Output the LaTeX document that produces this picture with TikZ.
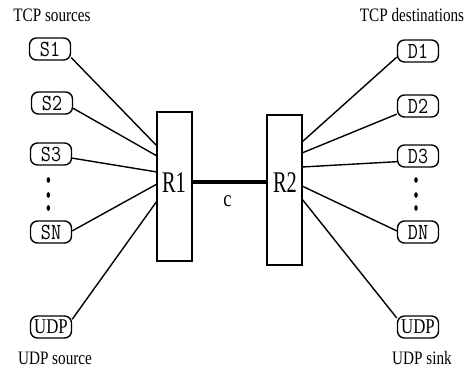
\documentclass[tikz,border=0pt]{standalone}
\usepackage{fontspec}
\usetikzlibrary{shapes.geometric}
\setmainfont{Liberation Serif}
\newfontfamily\nserif[FakeStretch=0.8]{Liberation Serif}
\newfontfamily\rserif[FakeStretch=0.68]{Liberation Serif}
\newfontfamily\hostmono[FakeStretch=0.85]{Latin Modern Mono}
\begin{document}
\begin{tikzpicture}[x=1pt,y=-1pt,
  host/.style={draw, rounded corners=7pt, minimum width=41pt, minimum height=22pt, inner sep=0pt, line width=1.4pt},
  monotxt/.style={font=\hostmono\fontsize{23}{23}\selectfont},
  serifhost/.style={font=\nserif\fontsize{21}{21}\selectfont},
  router/.style={draw, minimum width=35pt, minimum height=149pt, inner sep=0pt, line width=1.6pt},
  lbl/.style={font=\nserif\fontsize{19}{19}\selectfont, inner sep=0pt},
  rlbl/.style={font=\rserif\fontsize{30}{30}\selectfont, inner sep=0pt},
  lnk/.style={line width=1.4pt},
  trunk/.style={line width=3.2pt},
  dotmark/.style={fill=black, ellipse, inner sep=0pt, minimum width=3.6pt, minimum height=5.6pt}]
\useasboundingbox (0,0) rectangle (468,368);

% labels
\node[lbl] (tsrc) at (52,15) {TCP sources};
\node[lbl] (tdst) at (412,15) {TCP destinations};
\node[lbl] (usrc) at (55,358) {UDP source};
\node[lbl] (usnk) at (422,358) {UDP sink};

% routers
\node[router] (R1) at (174.5,186.5) {};
\node[router, minimum height=150pt] (R2) at (284.5,190) {};
\node[rlbl] (R1t) at (174,182.5) {R1};
\node[rlbl] (R2t) at (285,182.5) {R2};

% sources
\node[host, monotxt] (S1) at (50,49) {S1};
\node[host, monotxt] (S2) at (52,103) {S2};
\node[host, monotxt] (S3) at (51,154) {S3};
\node[host, monotxt] (SN) at (51,232) {SN};
\node[host, serifhost] (U1) at (51,327) {UDP};

% destinations
\node[host, monotxt] (D1) at (418,51) {D1};
\node[host, monotxt] (D2) at (418,106) {D2};
\node[host, monotxt] (D3) at (418,156) {D3};
\node[host, monotxt] (DN) at (418,232) {DN};
\node[host, serifhost] (U2) at (418,327) {UDP};

% dots
\node[dotmark] (ls1) at (48.3,180) {};
\node[dotmark] (ls2) at (48.3,195) {};
\node[dotmark] (ls3) at (48.3,208) {};
\node[dotmark] (rs1) at (416,180) {};
\node[dotmark] (rs2) at (416,195) {};
\node[dotmark] (rs3) at (416,208) {};

% attachment points on routers
\coordinate (a1) at (157,146);
\coordinate (a2) at (157,156);
\coordinate (a3) at (157,172);
\coordinate (a4) at (157,184);
\coordinate (a5) at (157,201);
\coordinate (b1) at (302,142);
\coordinate (b2) at (302,153);
\coordinate (b3) at (302,167);
\coordinate (b4) at (302,186);
\coordinate (b5) at (302,199);

\draw[lnk] (S1.-22) -- (a1);
\draw[lnk] (S2.-14) -- (a2);
\draw[lnk] (S3.-11) -- (a3);
\draw[lnk] (SN.3) -- (a4);
\draw[lnk] (U1.20) -- (a5);

\draw[lnk] (D1.196) -- (b1);
\draw[lnk] (D2.201) -- (b2);
\draw[lnk] (D3.195) -- (b3);
\draw[lnk] (DN.177) -- (b4);
\draw[lnk] (U2.157) -- (b5);

% trunk
\draw[trunk] (R1.east |- 0,182) coordinate (t1) -- (R2.west |- 0,182) coordinate (t2);
\node[font=\nserif\fontsize{23}{23}\selectfont, inner sep=0pt] (c) at (227.5,201) {c};
\end{tikzpicture}
\end{document}
